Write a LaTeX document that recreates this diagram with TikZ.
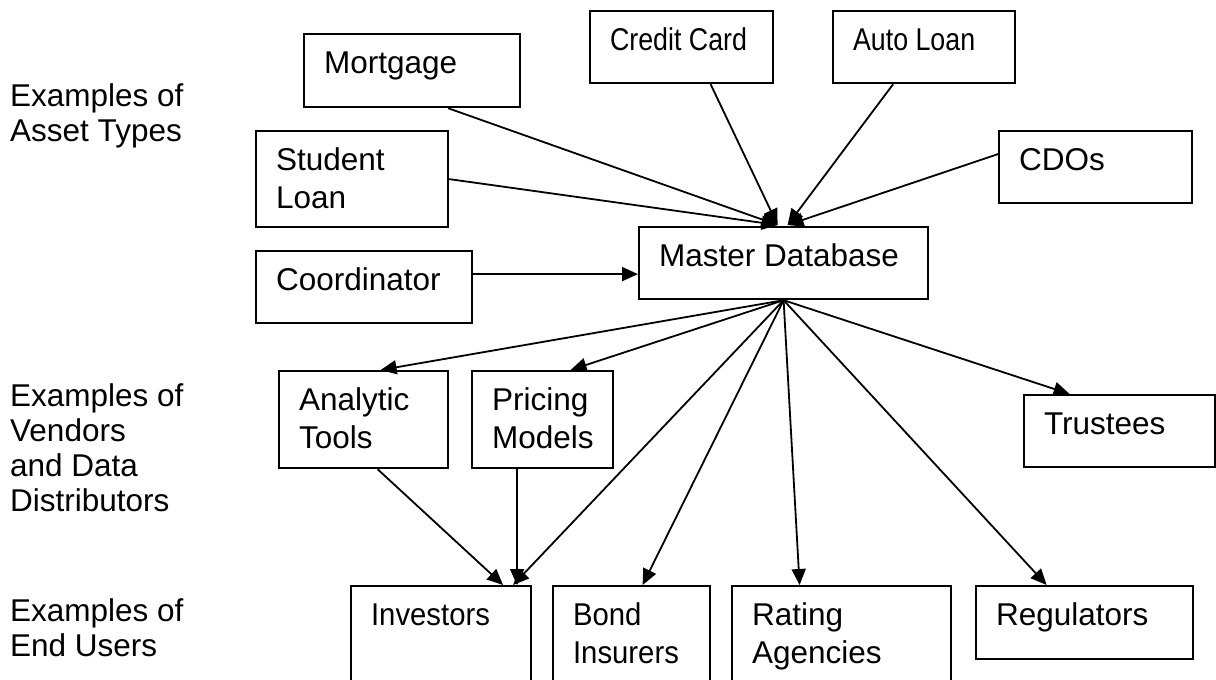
\documentclass[tikz,border=0pt]{standalone}
\usepackage{fontspec}
\setmainfont{Liberation Sans}
\usepackage{graphicx}
\usetikzlibrary{arrows.meta}
\newcommand\bt[3]{\parbox[c][#2pt][t]{#1pt}{\raggedright\leftskip=20pt\rule{0pt}{39.5pt}#3}}
\newcommand\lt[2]{\parbox[c][#1pt][t]{200pt}{\raggedright\rule{0pt}{29pt}#2}}
\begin{document}
\begin{tikzpicture}[x=1pt,y=-1pt,
  every node/.style={font=\fontsize{31.5}{38}\selectfont, inner sep=0pt, anchor=north west},
  box/.style={draw, line width=2.2pt},
  lab/.style={font=\fontsize{31.5}{35}\selectfont},
  arr/.style={line width=1.8pt,-{Triangle[length=16pt,width=14pt]}}]
\useasboundingbox (0,0) rectangle (1216,680);
\clip (0,0) rectangle (1216,680);
\fill[white] (0,0) rectangle (1216,680);
% labels
\node[lab] (l1) at (10,77) {\lt{80}{Examples of\\Asset Types}};
\node[lab] (l2) at (10,377) {\lt{150}{Examples of\\Vendors\\and Data\\Distributors}};
\node[lab] (l3) at (10,592) {\lt{80}{Examples of\\End Users}};
% boxes
\node[box] (mort) at (303,33) {\bt{216}{73}{Mortgage}};
\node[box] (cc) at (589,10) {\bt{183}{72}{\scalebox{0.85}[1]{Credit Card}}};
\node[box] (auto) at (832,10) {\bt{182}{72}{\scalebox{0.85}[1]{Auto Loan}}};
\node[box] (stud) at (255,130) {\bt{192}{96}{Student\\Loan}};
\node[box] (cdo) at (998,130) {\bt{193}{72}{CDOs}};
\node[box] (coord) at (255,250) {\bt{216}{72}{Coordinator}};
\node[box] (md) at (638,226) {\bt{289}{72}{Master Database}};
\node[box] (anal) at (278,370) {\bt{169}{97}{Analytic\\Tools}};
\node[box] (pric) at (471,370) {\bt{141}{97}{Pricing\\Models}};
\node[box] (tru) at (1023,394) {\bt{191}{72}{Trustees}};
\node[box] (inv) at (350,585) {\bt{180}{110}{\scalebox{0.93}[1]{Investors}}};
\node[box] (bond) at (552,585) {\bt{157}{110}{\scalebox{0.93}[1]{Bond}\\\scalebox{0.93}[1]{Insurers}}};
\node[box] (rat) at (731,585) {\bt{219}{110}{Rating\\Agencies}};
\node[box] (reg) at (975,585) {\bt{217}{73}{Regulators}};
% connectors
\coordinate (mdL) at ([xshift=-6pt,yshift=1pt]md.north);
\coordinate (mdR) at ([xshift=4pt,yshift=1pt]md.north);
\draw[arr] ([xshift=36pt]mort.south) -- (mdL);
\draw[arr] (stud.east) -- (mdL);
\draw[arr] ([xshift=29pt]cc.south) -- (mdL);
\draw[arr] ([xshift=-31pt]auto.south) -- (mdR);
\draw[arr] ([yshift=13pt]cdo.west) -- (mdR);
\draw[arr] ([yshift=13pt]coord.east) coordinate (c1) -- (c1 -| md.west);
\draw[arr] (md.south) -- ([xshift=17pt]anal.north);
\draw[arr] (md.south) -- ([xshift=28pt]pric.north);
\draw[arr] (md.south) -- ([xshift=-50pt]tru.north);
\draw[arr] (md.south) -- ([xshift=-38pt]reg.north);
\draw[arr] (md.south) -- ([xshift=-42pt]rat.north);
\draw[arr] (md.south) -- ([xshift=11pt]bond.north);
\draw[arr] (md.south) -- ([xshift=72pt]inv.north);
\draw[arr] ([xshift=14pt]anal.south) -- ([xshift=62pt]inv.north);
\draw[arr,line width=2pt] ([xshift=-25.5pt]pric.south) coordinate (p1) -- (p1 |- inv.north);
\end{tikzpicture}
\end{document}
